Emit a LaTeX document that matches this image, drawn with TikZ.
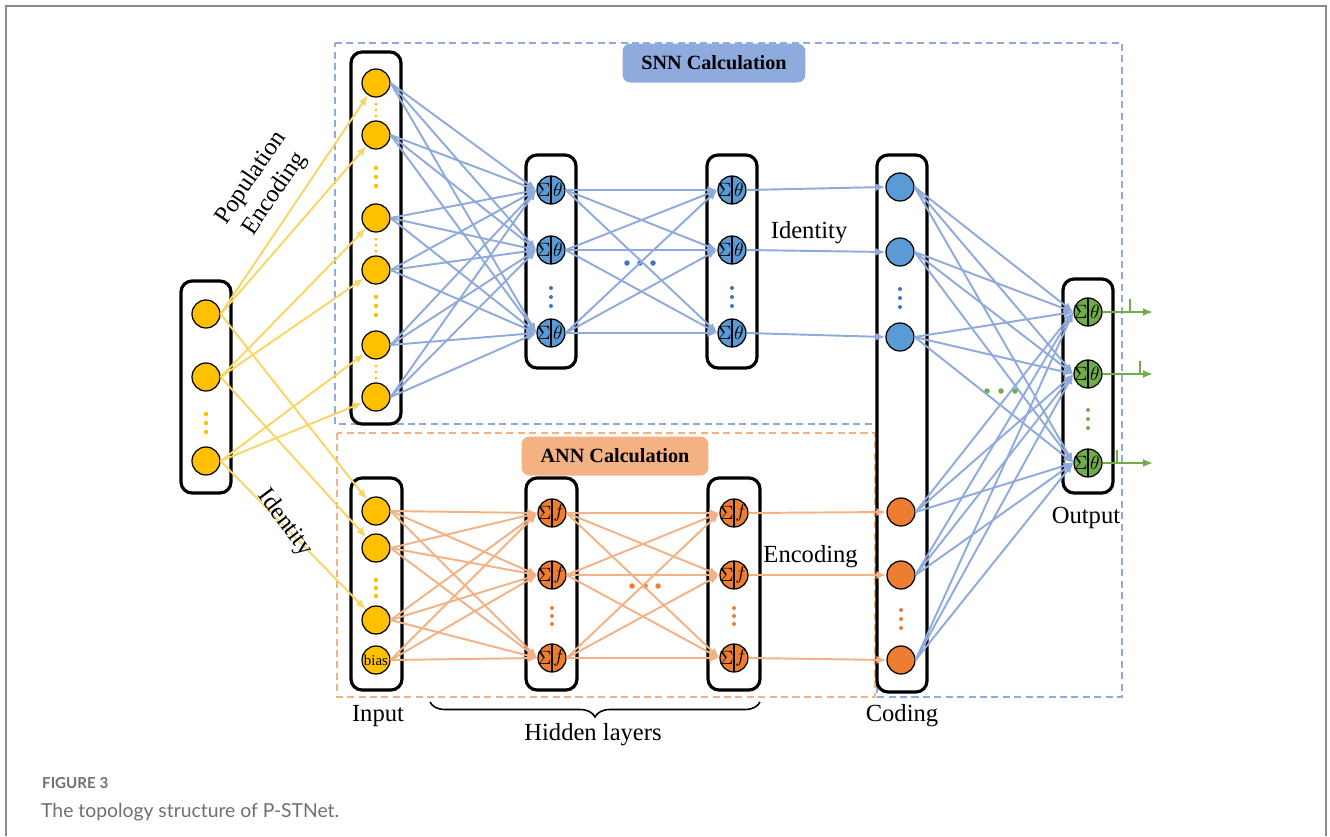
\documentclass[tikz,border=0pt]{standalone}
\usepackage{fontspec}
\setmainfont{Liberation Serif}
\newfontfamily\capfont{Lato}
\usepackage{tikz}
\usetikzlibrary{arrows.meta,positioning,fit,decorations.pathreplacing}
\definecolor{pyellow}{HTML}{FFC000}
\definecolor{pyellowln}{HTML}{F9D564}
\definecolor{pblue}{HTML}{5B9BD5}
\definecolor{pblueln}{HTML}{8FAADC}
\definecolor{pbluedot}{HTML}{4472C4}
\definecolor{porange}{HTML}{ED7D31}
\definecolor{porangeln}{HTML}{F4B183}
\definecolor{pgreen}{HTML}{70AD47}
\definecolor{pgray}{HTML}{707070}
\definecolor{pframe}{HTML}{8C8C8C}

% neuron with a sum and a transfer half
\newcommand{\sigcell}[4]{%
  \node[cell=#3] (#1) at (#2) {};
  \node[sym] (#1s) at ([xshift=-1.5mm]#1.center) {$\Sigma$};
  \node[sym] (#1t) at ([xshift=1.4mm]#1.center) {$#4$};
}
% three vertical dots
\newcommand{\vdotsat}[5]{%
  \foreach \k in {-1,0,1} \fill[#3] (#1,{#2+\k*#4}) circle (#5);
}

\begin{document}
\begin{tikzpicture}[
    x=0.02cm,
    y=-0.02cm,
    font=\fontsize{14}{16}\selectfont,
    layer/.style={draw=black, line width=1.8pt, rounded corners=2.2mm, inner sep=0pt},
    neuron/.style={circle, draw=black, line width=0.7pt, minimum size=5.6mm, inner sep=0pt, fill=#1},
    cell/.style={neuron=#1, path picture={\draw[line width=0.7pt] (path picture bounding box.north) -- (path picture bounding box.south);}},
    sym/.style={inner sep=0pt, font=\fontsize{10.5}{11}\selectfont},
    yarr/.style={-{Latex[length=2mm,width=1.6mm]}, line width=1.1pt, draw=pyellowln},
    barr/.style={-{Latex[length=2mm,width=1.6mm]}, line width=1.1pt, draw=pblueln},
    oarr/.style={-{Latex[length=2mm,width=1.6mm]}, line width=1.1pt, draw=porangeln},
    garr/.style={-{Latex[length=2mm,width=1.6mm]}, line width=1.1pt, draw=pgreen},
    region/.style={line width=0.9pt, dash pattern=on 4pt off 2.5pt},
    tag/.style={rounded corners=1.6mm, font=\bfseries\fontsize{11.5}{13}\selectfont, minimum height=0.78cm, inner sep=0pt}
  ]
    \useasboundingbox (0,0) rectangle (1330,836);
    \draw[pframe, line width=1.2pt] (6,836) -- (6,6) -- (1326,6) -- (1326,836);

    \draw[region, pblueln] (335,43) -- (1122,43) -- (1122,697) -- (877,697) -- (877,424) -- (335,424) -- cycle;
    \draw[region, porangeln] (337,433) rectangle (875,697);
    \node[tag, fill=pblueln, minimum width=3.66cm] (snntag) at (714,63) {SNN Calculation};
    \node[tag, fill=porangeln, minimum width=3.74cm] (anntag) at (615,456) {ANN Calculation};

    \node[layer, fit={(181,281)(231,493)}] (rawbox) {};
    \node[layer, fit={(351,52)(401,424)}] (popbox) {};
    \node[layer, fit={(351,478)(402,690)}] (inbox) {};
    \node[layer, fit={(526,155)(576,368)}] (sbox1) {};
    \node[layer, fit={(707,155)(757,368)}] (sbox2) {};
    \node[layer, fit={(526,478)(577,690)}] (abox1) {};
    \node[layer, fit={(708,478)(760,690)}] (abox2) {};
    \node[layer, fit={(877,155)(927,692)}] (codebox) {};
    \node[layer, fit={(1063,279)(1113,493)}] (outbox) {};

    \node[neuron=pyellow] (r1) at (206,314) {};
    \node[neuron=pyellow] (r2) at (206,377) {};
    \node[neuron=pyellow] (r3) at (206,461) {};
    \foreach \y [count=\i] in {83,135,218,270,345,397}
      \node[neuron=pyellow] (p\i) at (376,\y) {};
    \node[neuron=pyellow] (a1) at (376,511) {};
    \node[neuron=pyellow] (a2) at (376,548) {};
    \node[neuron=pyellow] (a3) at (376,620) {};
    \node[neuron=pyellow, font=\fontsize{8.5}{9}\selectfont] (a4) at (376,660) {bias};

    \sigcell{s11}{551,190}{pblue}{\theta}
    \sigcell{s12}{551,250}{pblue}{\theta}
    \sigcell{s13}{551,333}{pblue}{\theta}
    \sigcell{s21}{732,190}{pblue}{\theta}
    \sigcell{s22}{732,250}{pblue}{\theta}
    \sigcell{s23}{732,333}{pblue}{\theta}
    \sigcell{f11}{552,513}{porange}{f}
    \sigcell{f12}{552,575}{porange}{f}
    \sigcell{f13}{552,658}{porange}{f}
    \sigcell{f21}{734,513}{porange}{f}
    \sigcell{f22}{734,575}{porange}{f}
    \sigcell{f23}{734,658}{porange}{f}
    \node[neuron=pblue] (c1) at (900,187) {};
    \node[neuron=pblue] (c2) at (900,252) {};
    \node[neuron=pblue] (c3) at (900,337) {};
    \node[neuron=porange] (c4) at (901,512) {};
    \node[neuron=porange] (c5) at (901,575) {};
    \node[neuron=porange] (c6) at (901,660) {};
    \sigcell{o1}{1088,312}{pgreen}{\theta}
    \sigcell{o2}{1088,374}{pgreen}{\theta}
    \sigcell{o3}{1088,463}{pgreen}{\theta}

    \vdotsat{206}{423}{pyellow}{9}{0.45mm}
    \vdotsat{376}{110}{pyellow}{6}{0.3mm}
    \vdotsat{376}{177}{pyellow}{9}{0.45mm}
    \vdotsat{376}{245}{pyellow}{6}{0.3mm}
    \vdotsat{376}{306}{pyellow}{9}{0.45mm}
    \vdotsat{376}{372}{pyellow}{6}{0.3mm}
    \vdotsat{376}{588}{pyellow}{8}{0.45mm}
    \vdotsat{551}{297}{pbluedot}{9}{0.4mm}
    \vdotsat{732}{297}{pbluedot}{9}{0.4mm}
    \vdotsat{552}{616}{porange}{8}{0.4mm}
    \vdotsat{734}{616}{porange}{8}{0.4mm}
    \vdotsat{900}{298}{pbluedot}{9}{0.4mm}
    \vdotsat{901}{619}{porange}{9}{0.4mm}
    \vdotsat{1088}{419}{pgreen}{9}{0.4mm}
    \foreach \x in {627,640,653} \fill[pbluedot] (\x,263) circle (0.55mm);
    \foreach \x in {632,645,658} \fill[porange] (\x,586) circle (0.55mm);
    \foreach \x in {987,1001,1015} \fill[pgreen] (\x,391) circle (0.55mm);

    \draw[yarr] (r1.east) -- (p1);
    \draw[yarr] (r1.east) -- (p2);
    \draw[yarr] (r2.east) -- (p3);
    \draw[yarr] (r2.east) -- (p4);
    \draw[yarr] (r3.east) -- (p5);
    \draw[yarr] (r3.east) -- (p6);
    \draw[yarr] (r1.east) -- (a1);
    \draw[yarr] (r2.east) -- (a2);
    \draw[yarr] (r3.east) -- (a3);

    \foreach \i in {1,...,6}
      \foreach \j in {1,2,3}
        \draw[barr] (p\i.east) -- (s1\j.west);
    \foreach \i in {1,2,3}
      \foreach \j in {1,2,3}
        \draw[barr] (s1\i.east) -- (s2\j.west);
    \draw[barr] (s21.east) -- (c1.west);
    \draw[barr] (s22.east) -- node[above, text=black, pos=0.45] (idlab) {Identity} (c2.west);
    \draw[barr] (s23.east) -- (c3.west);

    \foreach \i in {1,...,4}
      \foreach \j in {1,2,3}
        \draw[oarr] (a\i.east) -- (f1\j.west);
    \foreach \i in {1,2,3}
      \foreach \j in {1,2,3}
        \draw[oarr] (f1\i.east) -- (f2\j.west);
    \draw[oarr] (f21.east) -- (c4.west);
    \draw[oarr] (f22.east) -- node[above, text=black, pos=0.45] (enclab) {Encoding} (c5.west);
    \draw[oarr] (f23.east) -- (c6.west);

    \foreach \i in {1,...,6}
      \foreach \j in {1,2,3}
        \draw[barr] (c\i.east) -- (o\j.west);

    \foreach \i/\t in {1/1130,2/1140,3/1117} {
      \coordinate (e\i) at (o\i.east -| 1153,0);
      \draw[garr] (o\i.east) -- (e\i);
      \draw[pgreen, line width=1.1pt] (o\i.east -| \t,0) -- ++(0,-13);
    }

    \node[rotate=56, align=center] (poplab) at (263,186) {Population\\Encoding};
    \node[rotate=-53] (idlab2) at (285,523) {Identity};
    \node (inlab) at (378,716) {Input};
    \node (codelab) at (902,716) {Coding};
    \node (outlab) at (1086,518) {Output};
    \coordinate (brl) at (430,702);
    \coordinate (brr) at (760,702);
    \draw[line width=0.9pt, decorate, decoration={brace, amplitude=3mm}] (brr) -- (brl);
    \node (hidlab) at (593,735) {Hidden layers};

    \node[anchor=west, text=pgray, font=\capfont\bfseries\fontsize{8.6}{10}\selectfont] (fignum) at (36,783) {FIGURE 3};
    \node[anchor=west, text=pgray, font=\capfont\fontsize{11}{13}\selectfont] (figcap) at (35,812) {The topology structure of P-STNet.};
\end{tikzpicture}
\end{document}
